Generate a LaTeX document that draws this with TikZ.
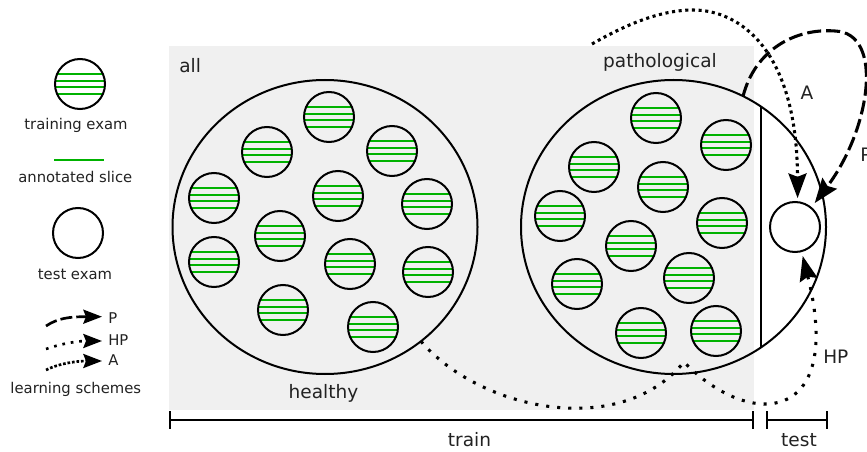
\documentclass[tikz,border=0pt]{standalone}
\usepackage{fontspec}
\setmainfont{DejaVu Sans}
\usetikzlibrary{shapes.geometric,arrows.meta,calc}
\definecolor{bggray}{HTML}{F0F0F0}
\definecolor{slicegreen}{RGB}{0,178,0}
\definecolor{ink}{HTML}{222222}
\newcommand\lblfont{\fontsize{13.9pt}{16pt}\selectfont}
\newcommand\legfont{\fontsize{11.1pt}{13pt}\selectfont}
\tikzset{
  slice/.style={draw=slicegreen, line width=1.4pt},
  exam/.style={circle, draw=black, line width=1.5pt, minimum size=37.5pt, inner sep=0pt, outer sep=0pt},
  trainexam/.style={exam, path picture={
      \foreach \d in {-7.5,-2.5,2.5,7.5}{
        \draw[slice] ([yshift=\d pt]path picture bounding box.west) -- ([yshift=\d pt]path picture bounding box.east);}}},
  group/.style={ellipse, draw=black, line width=1.5pt, minimum width=228.75pt, minimum height=220.5pt, inner sep=0pt, outer sep=0pt},
  lbl/.style={inner sep=0pt, text=ink, font=\lblfont},
  leg/.style={inner sep=0pt, text=ink, font=\legfont},
  bigtip/.style={-{Stealth[length=18.5pt,width=13.5pt,inset=2.5pt]}},
  smalltip/.style={-{Stealth[length=14pt,width=10.5pt,inset=2pt]}},
  schemeP/.style={line width=2.3pt, dash pattern=on 10.5pt off 3.75pt},
  schemeA/.style={line width=2.3pt, dash pattern=on 2.3pt off 2.7pt},
  schemeHP/.style={line width=2.3pt, dash pattern=on 2.3pt off 6pt},
  legP/.style={line width=2pt, dash pattern=on 9pt off 3pt},
  legA/.style={line width=2pt, dash pattern=on 2pt off 1.4pt},
  legHP/.style={line width=2pt, dash pattern=on 2pt off 4.4pt},
  bracket/.style={line width=1.5pt, {Bar[width=13pt]}-{Bar[width=13pt]}}
}
\begin{document}
\begin{tikzpicture}[x=0.75pt, y=-0.75pt]
\useasboundingbox (0,0) rectangle (867,452);
\clip (0,0) rectangle (867,452);

% background of the training set
\fill[bggray] (169,46) rectangle (754,410);

% groups
\node[group] (hc) at (325,227) {};
\node[group] (pc) at (673.5,227) {};
\draw[line width=1.5pt] (pc.54) -- (pc.-54);

% training exams
\foreach \x/\y [count=\i] in {329/117,267/152,392/151,214/198,338/196,427/204,280/236,214/262,350/264,428/272,283/310,373/327}
  \node[trainexam] (h\i) at (\x,\y) {};
\foreach \x/\y [count=\i] in {656/118,726/145,594/167,663/187,560/216,722/223,631/246,577/284,689/278,641/333,716/331}
  \node[trainexam] (p\i) at (\x,\y) {};

% test exam
\node[exam, fill=white] (te) at (795,227) {};

% labels
\node[lbl, anchor=base west] (tall) at (179,73) {all};
\node[lbl, anchor=base] (tpath) at (660,68) {pathological};
\node[lbl, anchor=base] (thealthy) at (323.5,398) {healthy};
\node[lbl, anchor=base] (ttrain) at (469.5,446) {train};
\node[lbl, anchor=base] (ttest) at (799,446) {test};
\node[lbl, anchor=base] (tA) at (807,100) {A};
\node[lbl, anchor=base west] (tP) at (860,162) {P};
\node[lbl, anchor=base west] (tHP) at (823,363) {HP};

% learning scheme arrows
\coordinate (aS) at (592,44);
\coordinate (aM) at (693,10);
\draw[schemeA, bigtip, shorten >=3pt] (aS) .. controls (625,25) and (660,10) .. (aM)
  .. controls (740,10) and (797,50) .. (te.84);
\coordinate (pM) at (835,31);
\draw[schemeP, bigtip, shorten >=4.5pt] (pc.62) .. controls (755,50) and (795,28) .. (pM)
  .. controls (885,33) and (870,130) .. (te.50);
\coordinate (hpM) at (684,362);
\draw[schemeHP, bigtip, shorten >=3.75pt] (hc.-50) .. controls (480,410) and (620,440) .. (hpM)
  .. controls (750,430) and (845,425) .. (te.-75);

% brackets
\coordinate (trL) at (169,420);
\coordinate (trR) at (754,420);
\coordinate (tsL) at (766,420);
\coordinate (tsR) at (828,420);
\draw[bracket] (trL) -- (trR);
\draw[bracket] (tsL) -- (tsR);

% legend
\node[trainexam] (ltr) at (80,84) {};
\node[leg, anchor=base] (lttr) at (76,130) {training exam};
\coordinate (lsL) at (54,160);
\coordinate (lsR) at (104,160);
\draw[slice] (lsL) -- (lsR);
\node[leg, anchor=base] (ltsl) at (75.3,183) {annotated slice};
\node[exam] (lte) at (78,233) {};
\node[leg, anchor=base] (ltte) at (75,280) {test exam};

\coordinate (lpS) at (46,326);
\coordinate (lpE) at (102,316.7);
\draw[legP, smalltip] (lpS) .. controls (58,318) and (70,316.7) .. (lpE);
\node[leg, anchor=base west] (lpT) at (108,323.3) {P};
\coordinate (lhS) at (46,349);
\coordinate (lhE) at (102,341);
\draw[legHP, smalltip] (lhS) .. controls (65,342.5) and (80,341) .. (lhE);
\node[leg, anchor=base west] (lhT) at (108,345.7) {HP};
\coordinate (laS) at (46,370);
\coordinate (laE) at (102,361);
\draw[legA, smalltip] (laS) .. controls (60,363) and (78,361) .. (laE);
\node[leg, anchor=base west] (laT) at (108,365.7) {A};
\node[leg, anchor=base] (ltls) at (75.8,393) {learning schemes};
\end{tikzpicture}
\end{document}
